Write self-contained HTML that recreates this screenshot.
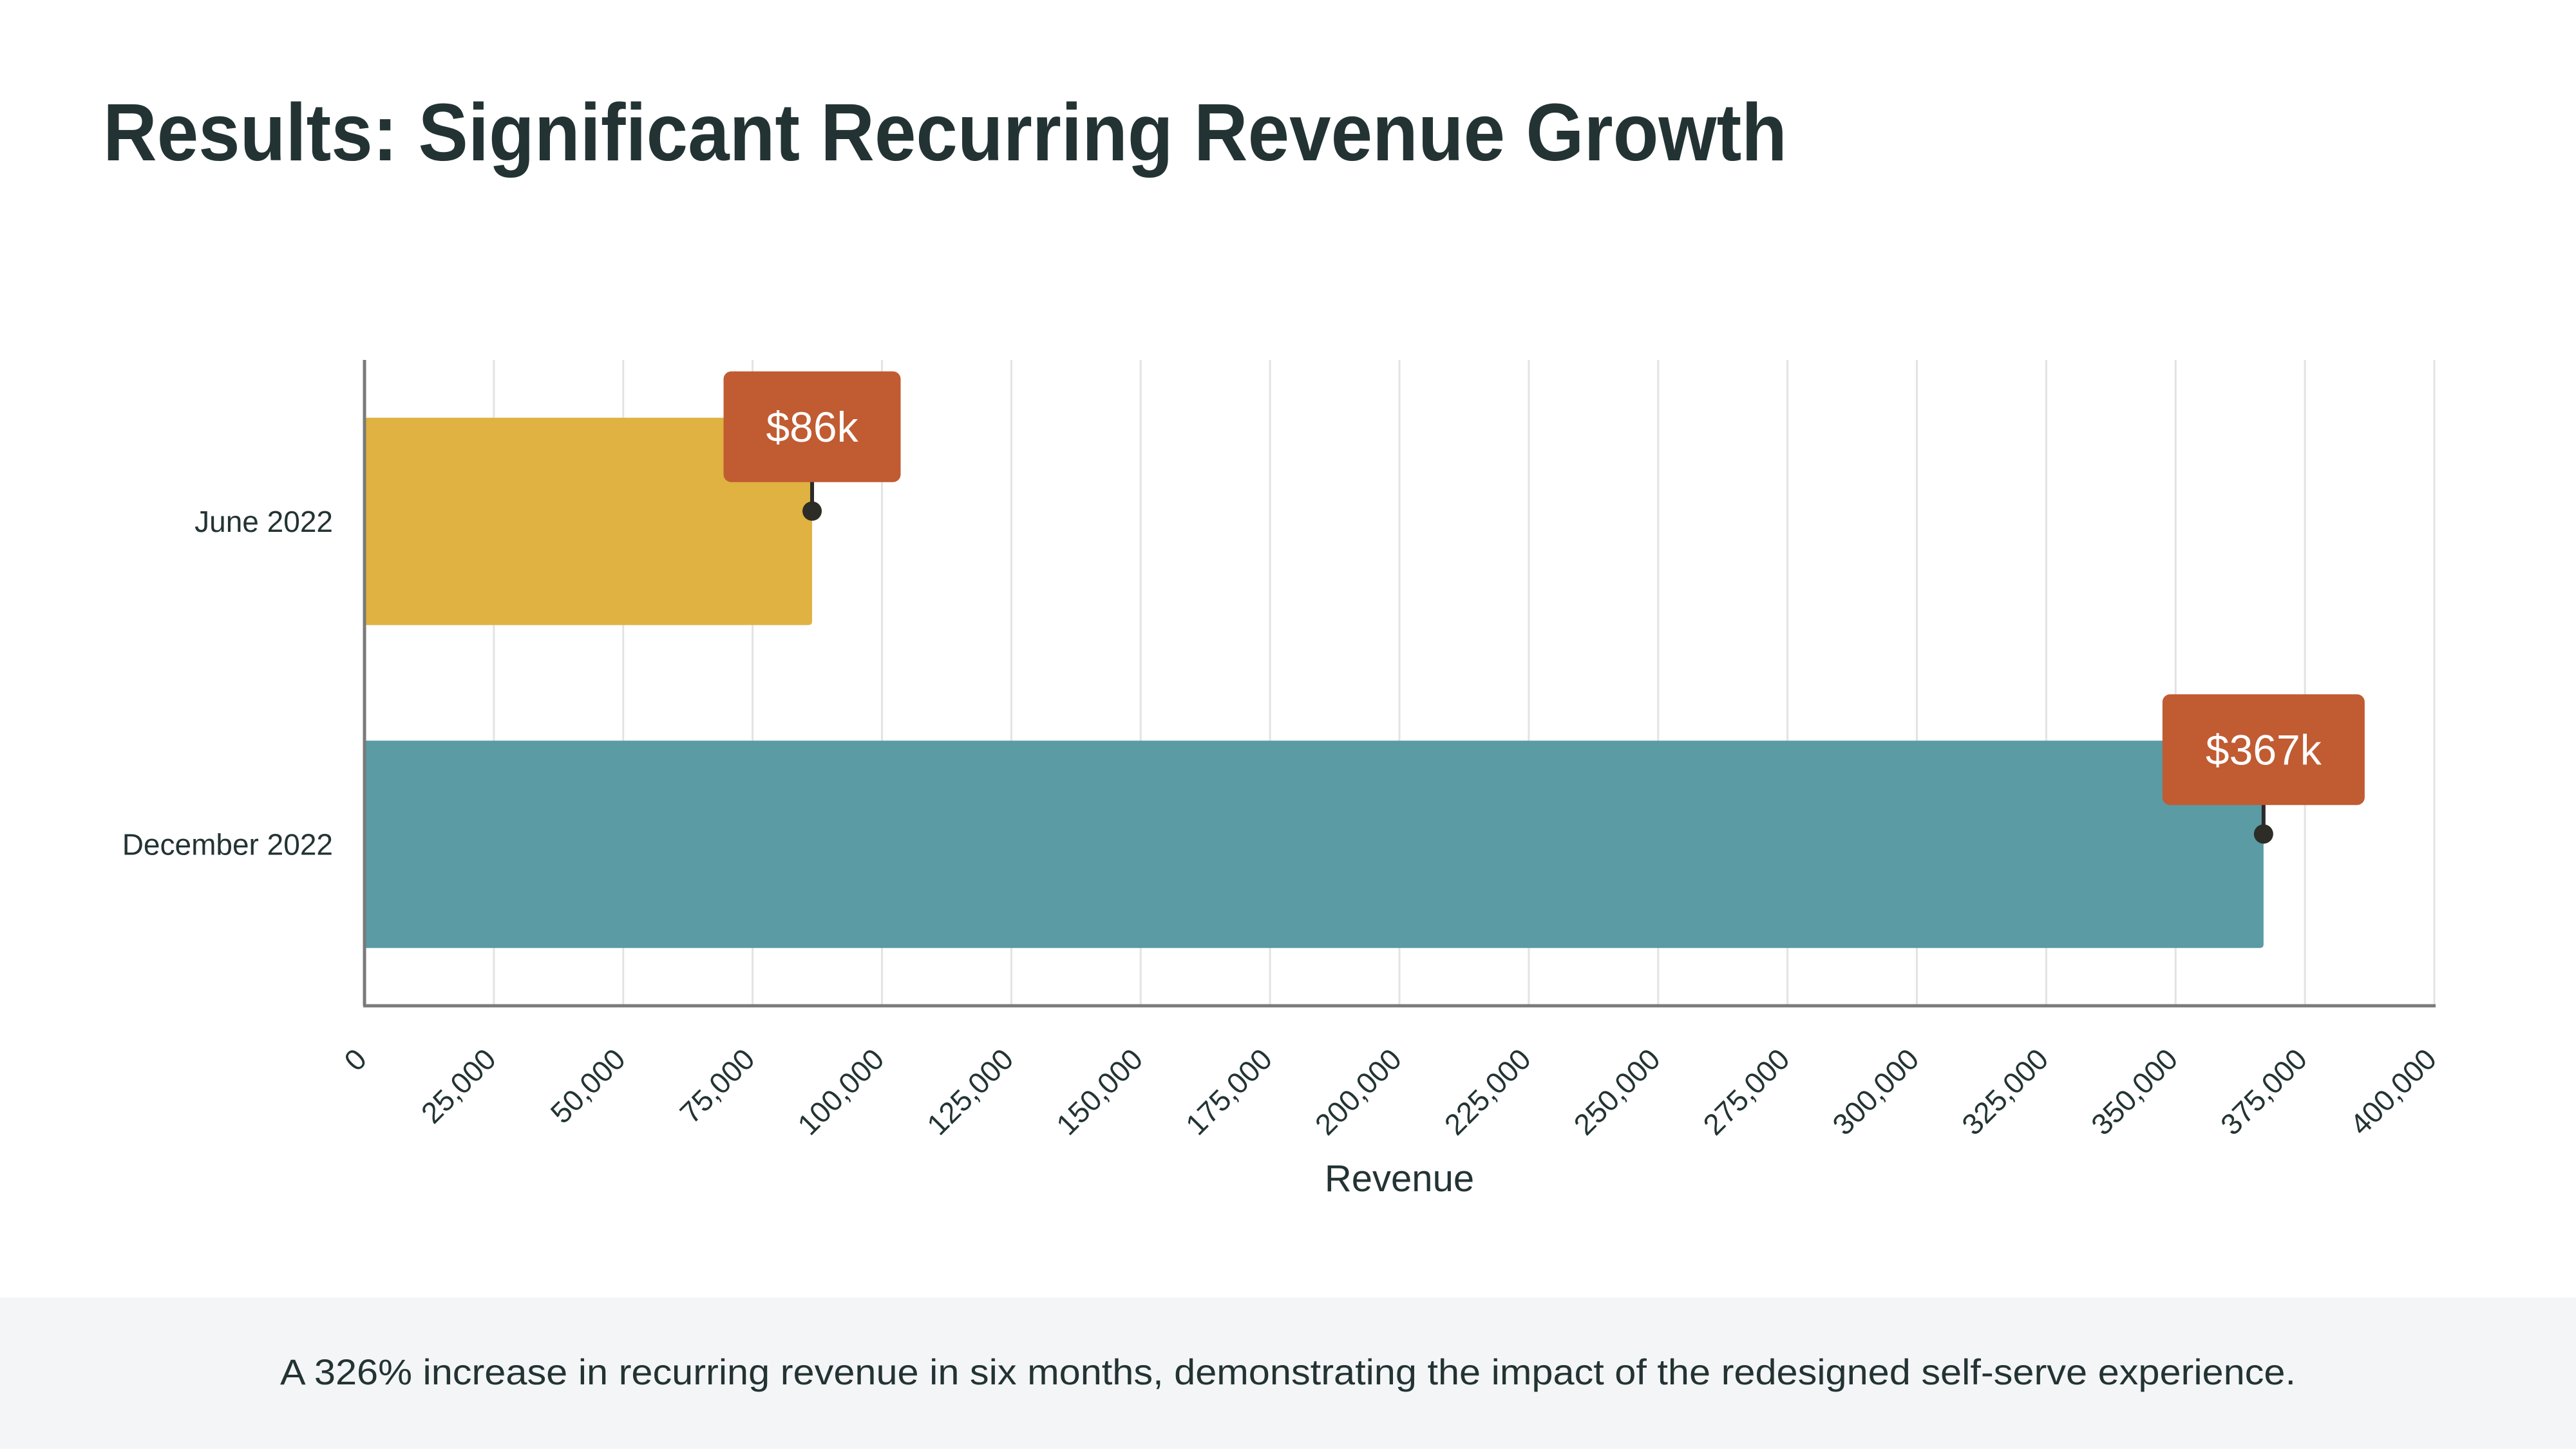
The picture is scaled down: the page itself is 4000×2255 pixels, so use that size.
<!DOCTYPE html>
<html><head><meta charset="utf-8"><style>
html,body{margin:0;padding:0;background:#fff;}
body{width:4000px;height:2250px;overflow:hidden;position:relative;font-family:"Liberation Sans",sans-serif;}
</style></head><body>
<svg width="4000" height="2250" viewBox="0 0 4000 2250" xmlns="http://www.w3.org/2000/svg">
<text x="160" y="249" font-family="Liberation Sans, sans-serif" font-weight="bold" font-size="126" fill="#233333" textLength="2615" lengthAdjust="spacingAndGlyphs">Results: Significant Recurring Revenue Growth</text>
<g id="chart"></g>
<rect x="0" y="2015" width="4000" height="235" fill="#f4f5f7"/>
<text x="2000" y="2150" text-anchor="middle" font-family="Liberation Sans, sans-serif" font-size="56" fill="#233333" textLength="3130" lengthAdjust="spacingAndGlyphs">A 326% increase in recurring revenue in six months, demonstrating the impact of the redesigned self-serve experience.</text>
</svg>
<script>
const categories = ["June 2022", "December 2022"];
const values = [86500, 367000];
const valueLabels = ["$86k", "$367k"];
const tickValues = [0,25000,50000,75000,100000,125000,150000,175000,200000,225000,250000,275000,300000,325000,350000,375000,400000];
const barColors = ["#e0b242", "#5a9ba4"];

const NS = "http://www.w3.org/2000/svg";
const g = document.getElementById("chart");
const X0 = 566, X1 = 3780, XMAX = 400000;
const PT = 559, PB = 1562, BAND = (PB - PT) / categories.length;
const xs = v => X0 + (v / XMAX) * (X1 - X0);
const yc = i => PT + BAND * (i + 0.5);
function mk(tag, attrs) { const e = document.createElementNS(NS, tag); for (const k in attrs) e.setAttribute(k, attrs[k]); g.appendChild(e); return e; }

tickValues.forEach((t) => {
  if (t > 0) {
    const l = mk("line", {x1: xs(t), x2: xs(t), y1: PT, y2: PB, stroke: "#e3e3e3", "stroke-width": 3});
    
    
  }
  const tx = mk("text", {x: xs(t) + 6, y: 1648, "text-anchor": "end", "font-size": 46, fill: "#233333", "font-family": "Liberation Sans, sans-serif", transform: `rotate(-45 ${xs(t) + 6} 1648)`});
  tx.textContent = t.toLocaleString("en-US");
  
  
});

const BH = 322;
categories.forEach((c, i) => {
  const top = yc(i) - BH / 2;
  const w = xs(values[i]) - X0;
  const b = mk("path", {d: `M${X0},${top} h${w - 6} q6,0 6,6 v${BH - 12} q0,6 -6,6 h${-(w - 6)} z`, fill: barColors[i]});
  
  
  const lab = mk("text", {x: 517, y: yc(i) + 16, "text-anchor": "end", "font-size": 46, fill: "#233333", "font-family": "Liberation Sans, sans-serif"});
  lab.textContent = c;
  
  
  const cx = xs(values[i]);
  const stem = mk("line", {x1: cx, x2: cx, y1: top + 90, y2: top + 145, stroke: "#2a2a2a", "stroke-width": 6});
  
  
  const dot = mk("circle", {cx: cx, cy: top + 145, r: 15, fill: "#2e2c26"});
  
  
  const bw = 119 + valueLabels[i].length * 39;
  const box = mk("rect", {x: cx - bw / 2, y: top - 72, width: bw, height: 172, rx: 12, fill: "#c15b32"});
  
  
  const vt = mk("text", {x: cx, y: top + 37, "text-anchor": "middle", "font-size": 66, fill: "#ffffff", "font-family": "Liberation Sans, sans-serif"});
  vt.textContent = valueLabels[i];
  
  
});

const ya = mk("line", {x1: X0, x2: X0, y1: PT, y2: PB, stroke: "#7a7a7a", "stroke-width": 5});


const xa = mk("line", {x1: X0 - 2, x2: X1 + 2, y1: PB, y2: PB, stroke: "#7a7a7a", "stroke-width": 5});


const xt = mk("text", {x: (X0 + X1) / 2, y: 1850, "text-anchor": "middle", "font-size": 58, fill: "#233333", "font-family": "Liberation Sans, sans-serif"});
xt.textContent = "Revenue";


</script>
</body></html>
